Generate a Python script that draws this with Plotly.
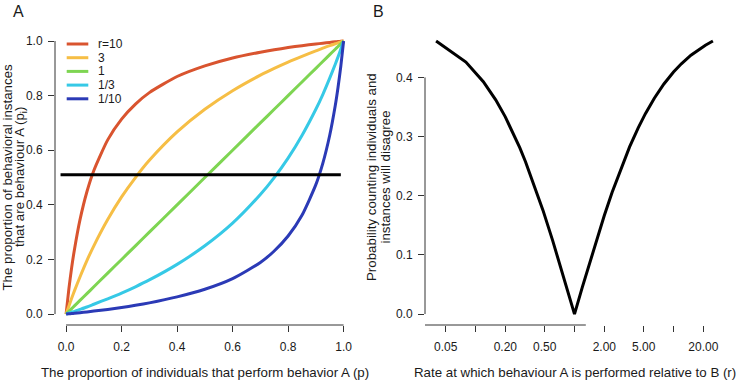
import plotly.graph_objects as go
import math

W, H = 740, 380

# ---------------- Panel A data ----------------
p_ind = [0, 0.01, 0.02, 0.03, 0.05, 0.075, 0.1, 0.15, 0.2, 0.25, 0.3, 0.4, 0.5,
         0.6, 0.7, 0.75, 0.8, 0.85, 0.9, 0.925, 0.95, 0.97, 0.98, 0.99, 1.0]
inst_r10 = [0, 0.092, 0.170, 0.236, 0.345, 0.448, 0.526, 0.638, 0.714, 0.769, 0.811, 0.870, 0.909,
            0.938, 0.959, 0.968, 0.976, 0.983, 0.989, 0.992, 0.995, 0.997, 0.998, 0.999, 1.0]
inst_r3 = [0, 0.029, 0.058, 0.085, 0.136, 0.196, 0.250, 0.346, 0.429, 0.500, 0.563, 0.667, 0.750,
           0.818, 0.875, 0.900, 0.923, 0.944, 0.964, 0.974, 0.983, 0.990, 0.993, 0.997, 1.0]
inst_r1 = [0, 0.01, 0.02, 0.03, 0.05, 0.075, 0.1, 0.15, 0.2, 0.25, 0.3, 0.4, 0.5,
           0.6, 0.7, 0.75, 0.8, 0.85, 0.9, 0.925, 0.95, 0.97, 0.98, 0.99, 1.0]
inst_r1_3 = [0, 0.003, 0.007, 0.010, 0.017, 0.026, 0.036, 0.056, 0.077, 0.100, 0.125, 0.182, 0.250,
             0.333, 0.438, 0.500, 0.571, 0.654, 0.750, 0.804, 0.864, 0.915, 0.942, 0.971, 1.0]
inst_r1_10 = [0, 0.001, 0.002, 0.003, 0.005, 0.008, 0.011, 0.017, 0.024, 0.032, 0.041, 0.063, 0.091,
              0.130, 0.189, 0.231, 0.286, 0.362, 0.474, 0.552, 0.655, 0.764, 0.831, 0.908, 1.0]
series_labels = ["r=10", "3", "1", "1/3", "1/10"]
series_values = [inst_r10, inst_r3, inst_r1, inst_r1_3, inst_r1_10]
series_colors = ["#D9542F", "#F6BE45", "#7ED552", "#36C9E6", "#2B3AB6"]

threshold_x = [-0.02, 0.99]
threshold_y = [0.51, 0.51]

xticks_A = [0, 0.2, 0.4, 0.6, 0.8, 1.0]
xticklabels_A = ["0.0", "0.2", "0.4", "0.6", "0.8", "1.0"]
yticks_A = [0, 0.2, 0.4, 0.6, 0.8, 1.0]
yticklabels_A = ["0.0", "0.2", "0.4", "0.6", "0.8", "1.0"]

# ---------------- Panel B data ----------------
rate_r = [0.04, 0.08, 0.12, 0.16, 0.2, 0.24, 0.28, 0.32, 0.4, 0.48, 0.6, 0.72, 0.84, 0.92, 1.0,
          1.2, 1.4, 1.6, 2.0, 2.4, 3.0, 3.6, 4.4, 5.2, 6.4, 8.0, 10, 12, 15, 18, 21, 25]
disagree = [0.4615, 0.4259, 0.3929, 0.3621, 0.3333, 0.3065, 0.2813, 0.2576, 0.2143, 0.1757, 0.125,
            0.0814, 0.0435, 0.0208, 0.0, 0.0455, 0.0833, 0.1154, 0.1667, 0.2059, 0.25, 0.2826,
            0.3148, 0.3387, 0.3649, 0.3889, 0.4091, 0.4231, 0.4375, 0.4474, 0.4545, 0.4615]

xticks_B = [0.05, 0.2, 0.5, 2, 5, 20]
xticklabels_B = ["0.05", "0.20", "0.50", "2.00", "5.00", "20.00"]
xticks_B_unlabelled = [0.1, 1, 10]
yticks_B = [0, 0.1, 0.2, 0.3, 0.4]
yticklabels_B = ["0.0", "0.1", "0.2", "0.3", "0.4"]

# ---------------- figure ----------------
FONT = "Liberation Sans, Arial, Helvetica, sans-serif"
TXT = "#1a1a1a"

fig = go.Figure()
for lab, vals, col in zip(series_labels, series_values, series_colors):
    fig.add_trace(go.Scatter(x=p_ind, y=vals, mode="lines", name=lab,
                             line=dict(color=col, width=3, shape="spline", smoothing=0.6),
                             xaxis="x", yaxis="y", showlegend=False))
fig.add_trace(go.Scatter(x=threshold_x, y=threshold_y, mode="lines",
                         line=dict(color="black", width=3), xaxis="x", yaxis="y",
                         showlegend=False))
fig.add_trace(go.Scatter(x=rate_r, y=disagree, mode="lines",
                         line=dict(color="black", width=3), xaxis="x2", yaxis="y2",
                         showlegend=False))

def px(x):
    return x / W

def py(y):
    return 1 - y / H

ydom = [py(325), py(30.1)]
axcommon = dict(showgrid=False, zeroline=False, showline=False, ticks="outside",
                ticklen=6, tickwidth=1, tickcolor="#333",
                tickfont=dict(family=FONT, size=12, color=TXT))

fig.update_layout(
    width=W, height=H, autosize=False,
    margin=dict(l=0, r=0, t=0, b=0),
    paper_bgcolor="white", plot_bgcolor="white",
    xaxis=dict(domain=[px(55), px(354.7)], range=[-0.04, 1.04], anchor="y",
               tickvals=xticks_A, ticktext=xticklabels_A, ticklabelstandoff=5, **axcommon),
    yaxis=dict(domain=ydom, range=[-0.04, 1.04], anchor="x",
               tickvals=yticks_A, ticktext=yticklabels_A, ticklabelstandoff=3, **axcommon),
    xaxis2=dict(domain=[px(425), px(724)], type="log", range=[-1.51, 1.51], anchor="y2",
                tickvals=xticks_B, ticktext=xticklabels_B, ticklabelstandoff=5,
                minor=dict(tickvals=xticks_B_unlabelled, ticks="outside", ticklen=6,
                           tickwidth=1, tickcolor="#333", showgrid=False),
                **axcommon),
    yaxis2=dict(domain=ydom, range=[-0.0185, 0.48], anchor="x2",
                tickvals=yticks_B, ticktext=yticklabels_B, ticklabelstandoff=3, **axcommon),
)

# R-style axis lines spanning only the tick range
shapes = [
    dict(type="line", xref="x", yref="y domain", x0=xticks_A[0], x1=xticks_A[-1], y0=0, y1=0,
         line=dict(color="#333", width=1)),
    dict(type="line", xref="x domain", yref="y", x0=0, x1=0, y0=yticks_A[0], y1=yticks_A[-1],
         line=dict(color="#333", width=1)),
    dict(type="line", xref="x2", yref="y2 domain", x0=math.log10(xticks_B[0]),
         x1=math.log10(xticks_B[-1]), y0=0, y1=0, line=dict(color="#333", width=1)),
    dict(type="line", xref="x2 domain", yref="y2", x0=0, x1=0, y0=yticks_B[0], y1=yticks_B[-1],
         line=dict(color="#333", width=1)),
]

# legend (manual, R-style compact)
leg_top = 44
leg_gap = 13.7
annotations = []
for i, (lab, col) in enumerate(zip(series_labels, series_colors)):
    yy = leg_top + i * leg_gap
    shapes.append(dict(type="line", xref="paper", yref="paper", x0=px(66.7), x1=px(88.3),
                       y0=py(yy), y1=py(yy), line=dict(color=col, width=3)))
    annotations.append(dict(x=px(96), y=py(yy), xref="paper", yref="paper", text=lab,
                            showarrow=False, xanchor="left", yanchor="middle",
                            font=dict(family=FONT, size=12, color=TXT)))

fig.update_layout(shapes=shapes)

def ann(text, x, y, size=13, angle=0):
    annotations.append(dict(x=px(x), y=py(y), xref="paper", yref="paper", text=text,
                            showarrow=False, xanchor="center", yanchor="middle",
                            textangle=angle, font=dict(family=FONT, size=size, color=TXT)))

ann("A", 18.5, 12, size=16)
ann("B", 378, 12, size=16)
ann("The proportion of individuals that perform behavior A (p)", 205, 372, size=13.3)
ann("Rate at which behaviour A is performed relative to B (r)", 575, 372, size=13.3)
ann("The proportion of behavioral instances", 6.5, 177, size=13.3, angle=-90)
ann("that are behaviour A (p<sub>i</sub>)", 20, 177, size=13.3, angle=-90)
ann("Probability counting individuals and", 371, 177, size=13.3, angle=-90)
ann("instances will disagree", 384.5, 177, size=13.3, angle=-90)

fig.update_layout(annotations=annotations)

fig.write_html("out.html", post_script="document.body.style.margin='0';",
               config={"displayModeBar": False})
